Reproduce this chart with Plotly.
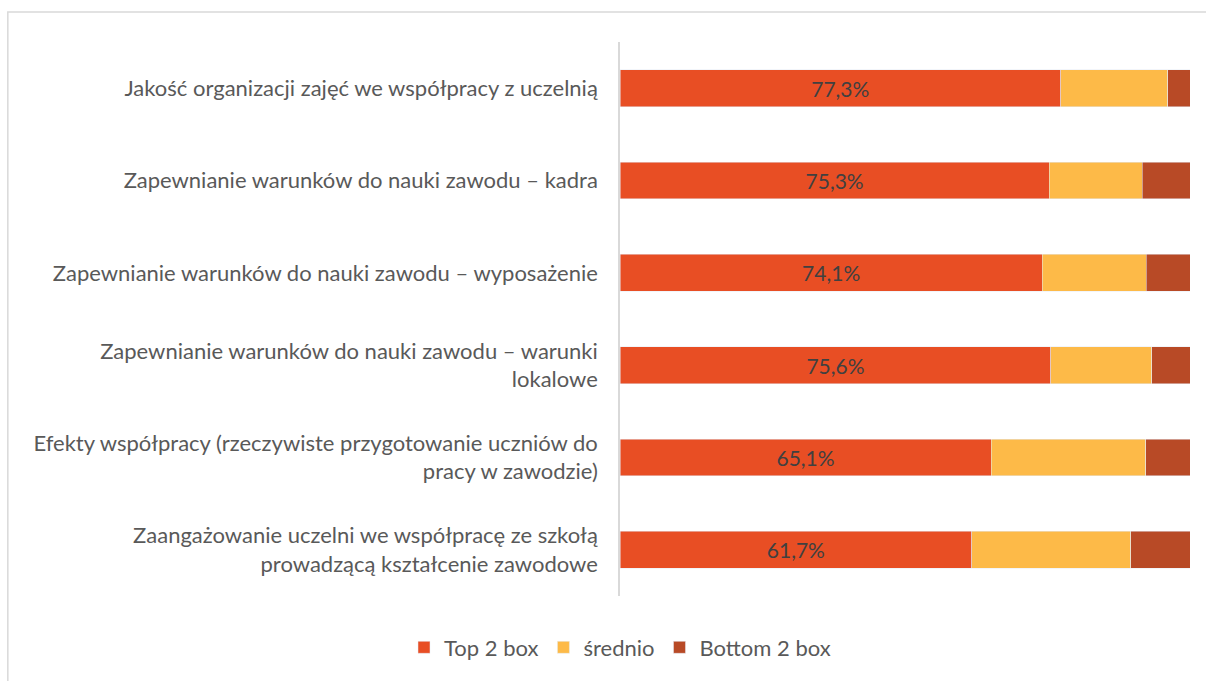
import plotly.graph_objects as go

categories = [
    "Jakość organizacji zajęć we współpracy z uczelnią",
    "Zapewnianie warunków do nauki zawodu – kadra",
    "Zapewnianie warunków do nauki zawodu – wyposażenie",
    "Zapewnianie warunków do nauki zawodu – warunki<br>lokalowe",
    "Efekty współpracy (rzeczywiste przygotowanie uczniów do<br>pracy w zawodzie)",
    "Zaangażowanie uczelni we współpracę ze szkołą<br>prowadzącą kształcenie zawodowe",
]
top2 = [77.3, 75.3, 74.1, 75.6, 65.1, 61.7]
srednio = [18.8, 16.3, 18.2, 17.7, 27.1, 27.9]
bottom2 = [3.9, 8.4, 7.7, 6.7, 7.8, 10.4]

FONT = "Lato, 'Open Sans', sans-serif"
FS = 22

fig = go.Figure()
fig.add_trace(go.Bar(
    y=categories, x=top2, orientation="h", name="Top 2 box",
    marker=dict(color="#E84E24"), width=0.4,
    text=[f"{v:.1f}%".replace(".", ",") for v in top2],
    textposition="inside", insidetextanchor="middle",
    textfont=dict(color="#404040", size=21, family=FONT),
))
fig.add_trace(go.Bar(
    y=categories, x=srednio, orientation="h", name="średnio",
    marker=dict(color="#FDBA48"), width=0.4,
))
fig.add_trace(go.Bar(
    y=categories, x=bottom2, orientation="h", name="Bottom 2 box",
    marker=dict(color="#B84A26"), width=0.4,
))

fig.update_layout(
    barmode="stack",
    width=1206, height=681,
    margin=dict(l=620, r=16, t=42, b=81),
    paper_bgcolor="white", plot_bgcolor="white",
    font=dict(family=FONT, size=FS, color="#595959"),
    xaxis=dict(range=[0, 100], visible=False, showgrid=False),
    yaxis=dict(autorange="reversed", showline=True, linecolor="#D9D9D9",
               linewidth=1.5, ticks="", showgrid=False,
               tickfont=dict(size=FS, color="#595959"), ticklabelstandoff=16),
    legend=dict(orientation="h", x=0, xanchor="center", y=-0.093,
                yanchor="middle", font=dict(size=FS, color="#595959"),
                traceorder="normal"),
    showlegend=True,
    shapes=[dict(type="rect", xref="paper", yref="paper",
                 x0=-1.074, x1=1.04, y0=-0.17, y1=1.054,
                 line=dict(color="#D9D9D9", width=1.5), fillcolor="rgba(0,0,0,0)",
                 layer="below")],
)

fig.write_html("out.html", config={"displayModeBar": False},
               post_script="document.body.style.margin='0';document.body.style.overflow='hidden';")
